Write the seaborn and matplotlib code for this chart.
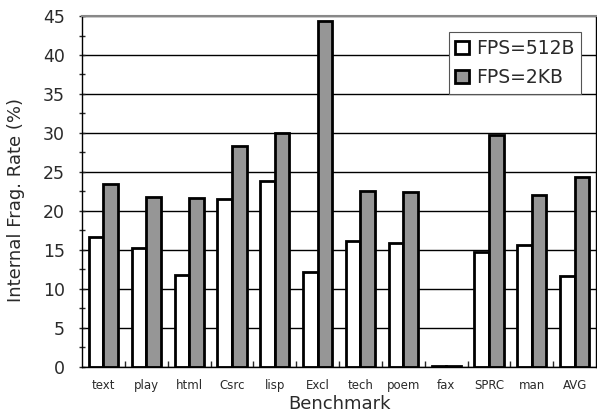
import matplotlib
matplotlib.use("Agg")
import matplotlib.pyplot as plt
import seaborn as sns
import pandas as pd
from matplotlib.ticker import MultipleLocator, FixedLocator

categories = ["text", "play", "html", "Csrc", "lisp", "Excl", "tech", "poem", "fax", "SPRC", "man", "AVG"]
fps_512b = [16.7, 15.2, 11.8, 21.5, 23.8, 12.2, 16.1, 15.9, 0.1, 14.8, 15.6, 11.7]
fps_2kb = [23.4, 21.8, 21.6, 28.3, 30.0, 44.4, 22.6, 22.4, 0.1, 29.7, 22.1, 24.3]
series_names = ["FPS=512B", "FPS=2KB"]

df = pd.DataFrame({
    "Benchmark": categories * 2,
    "Rate": fps_512b + fps_2kb,
    "Series": [series_names[0]] * len(categories) + [series_names[1]] * len(categories),
})

sns.set_style("white")
plt.rcParams["font.family"] = ["DejaVu Sans"]
txt = "#2a2a2a"

fig = plt.figure(figsize=(5.97, 4.16), dpi=100)
ax = fig.add_axes([0.1374, 0.118, 0.861, 0.8435])

ax.yaxis.grid(True, color="black", linewidth=1.0)
ax.set_axisbelow(True)

sns.barplot(data=df, x="Benchmark", y="Rate", hue="Series", order=categories,
            hue_order=series_names, palette=["white", "#969696"],
            edgecolor="black", linewidth=2.0, width=0.68, gap=0, ax=ax,
            saturation=1)

ax.set_ylim(0, 45)
ax.set_xlim(-0.5, len(categories) - 0.5)
ax.yaxis.set_major_locator(MultipleLocator(5))
ax.yaxis.set_minor_locator(MultipleLocator(2.5))
ax.tick_params(axis="y", which="both", direction="inout", length=5, width=1,
               labelsize=12.5, pad=10, left=True, labelcolor=txt)
ax.xaxis.set_minor_locator(FixedLocator([i + 0.5 for i in range(len(categories) - 1)]))
ax.tick_params(axis="x", which="major", length=0, labelsize=8.5, pad=9, labelcolor=txt)
ax.tick_params(axis="x", which="minor", direction="in", length=4, width=1, bottom=True)

for s in ["left", "bottom", "right"]:
    ax.spines[s].set_color("black")
    ax.spines[s].set_linewidth(1.0)
ax.spines["top"].set_color("#888888")
ax.spines["top"].set_linewidth(1.5)

ax.set_xlabel("Benchmark", fontsize=13, labelpad=2, color=txt)
ax.set_ylabel("Internal Frag. Rate (%)", fontsize=13, color=txt)
ax.yaxis.set_label_coords(-0.110, 0.476)

leg = ax.legend(loc="upper right", bbox_to_anchor=(0.971, 0.954), fontsize=13.5,
                frameon=True, fancybox=False, edgecolor="#555555", framealpha=1,
                handlelength=0.7, handleheight=0.7, handletextpad=0.4,
                borderpad=0.35, labelspacing=0.55, borderaxespad=0)
leg.get_frame().set_linewidth(0.8)
for t in leg.get_texts():
    t.set_color(txt)
for h in leg.legend_handles:
    h.set_linewidth(2.0)
    h.set_edgecolor("black")

fig.savefig("out.png", dpi=100)
